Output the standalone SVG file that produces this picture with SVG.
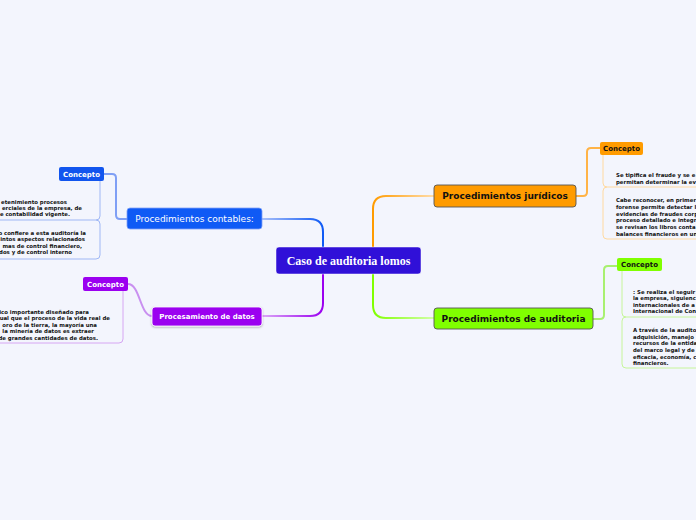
<svg xmlns="http://www.w3.org/2000/svg" width="696" height="520" viewBox="0 0 696 520">
<style>
.n{font-family:"DejaVu Sans",Verdana,sans-serif;}
.b{font-weight:bold;}
.t{font-family:"DejaVu Sans",Verdana,sans-serif;font-weight:bold;font-size:5.4px;fill:#111;}
.c{fill:none;stroke-width:2;stroke-linecap:round;}
.bx{fill:none;stroke-width:1;}
</style>
<defs>
<linearGradient id="gB" gradientUnits="userSpaceOnUse" x1="262" y1="0" x2="323" y2="0"><stop offset="0" stop-color="#a9c0fa"/><stop offset="1" stop-color="#0f5af5"/></linearGradient>
<linearGradient id="gP" gradientUnits="userSpaceOnUse" x1="262" y1="0" x2="323" y2="0"><stop offset="0" stop-color="#dca8f8"/><stop offset="1" stop-color="#9b00f0"/></linearGradient>
<linearGradient id="gO" gradientUnits="userSpaceOnUse" x1="434" y1="0" x2="373" y2="0"><stop offset="0" stop-color="#ffdcaa"/><stop offset="1" stop-color="#ff9b00"/></linearGradient>
<linearGradient id="gG" gradientUnits="userSpaceOnUse" x1="434" y1="0" x2="373" y2="0"><stop offset="0" stop-color="#d2ffaa"/><stop offset="1" stop-color="#80ff00"/></linearGradient>
<filter id="sh" x="-10%" y="-20%" width="120%" height="150%"><feDropShadow dx="0" dy="1" stdDeviation="0.8" flood-color="#000" flood-opacity="0.3"/></filter>
</defs>
<rect width="696" height="520" fill="#f3f5fd"/>

<g id="connectors">
<path class="c" stroke="url(#gB)" d="M323,247 V232 Q323,219 310,219 H262"/>
<path class="c" stroke="url(#gP)" d="M323,274 V303 Q323,316 310,316 H262"/>
<path class="c" stroke="url(#gO)" d="M373,247 V209 Q373,196 386,196 H434"/>
<path class="c" stroke="url(#gG)" d="M373,274 V305 Q373,318 386,318 H434"/>
<path class="c" stroke="#7f9ff5" stroke-width="1.2" d="M127,219 H120 Q116,219 116,215 V178 Q116,174 112,174 H104"/>
<path class="c" stroke="#c990f0" stroke-width="1" d="M152,316 C140,316 140,284 128,284"/>
<path class="c" stroke="#ffb347" stroke-width="1" d="M576,196 H583 Q587,196 587,192 V152 Q587,148 591,148 H600"/>
<path class="c" stroke="#a8f070" stroke-width="1" d="M593,319 H600 Q604,319 604,315 V270 Q604,266 608,266 H617"/>
</g>

<g id="center">
<rect x="276" y="247" width="145" height="27" rx="3" fill="#3010d8" stroke="#ffffff" stroke-opacity="0.6" stroke-width="0.8"/>
<text x="348.5" y="264.5" text-anchor="middle" font-family="'Liberation Serif','DejaVu Serif',serif" font-weight="bold" font-size="12" fill="#fff">Caso de auditoria lomos</text>
</g>

<g id="contables">
<rect x="127" y="208" width="135" height="21" rx="3" fill="#0f5af5" stroke="#7da0f8" stroke-width="0.8"/>
<text class="n" x="194.5" y="222" text-anchor="middle" font-size="9" fill="#fff">Procedimientos contables:</text>
</g>

<g id="procesamiento">
<rect x="152" y="307" width="110" height="19" rx="3" fill="#9b00f0" stroke="#ffffff" stroke-width="0.8" filter="url(#sh)"/>
<text class="n b" x="207" y="319" text-anchor="middle" font-size="7" fill="#fff">Procesamiento de datos</text>
</g>

<g id="juridicos">
<rect x="434" y="185" width="142" height="22" rx="3" fill="#ff9b00" stroke="#555" stroke-width="0.9"/>
<text class="n b" x="505" y="199.3" text-anchor="middle" font-size="9" fill="#111">Procedimientos jurídicos</text>
</g>

<g id="auditoria">
<rect x="434" y="308" width="159" height="21" rx="3" fill="#80ff00" stroke="#555" stroke-width="0.9"/>
<text class="n b" x="513.5" y="321.8" text-anchor="middle" font-size="9" fill="#111">Procedimientos de auditoria</text>
</g>

<g id="concepto-contables">
<rect x="59" y="167" width="45" height="14" rx="2" fill="#1155ee"/>
<text class="n b" x="81.5" y="176.6" text-anchor="middle" font-size="7" fill="#fff">Concepto</text>
<path class="bx" stroke="#9fb7f5" d="M0,220 H96 Q100,220 100,216 V181 M96,220 Q100,220 100,224 V255 Q100,259 96,259 H0"/>
<text class="t" text-anchor="end" x="67" y="203.5">etenimiento procesos</text>
<text class="t" text-anchor="end" x="82" y="209.5">erciales de la empresa, de</text>
<text class="t" text-anchor="end" x="70" y="216">e contabilidad vigente.</text>
<text class="t" text-anchor="end" x="86" y="235">o confiere a esta auditoría la</text>
<text class="t" text-anchor="end" x="85" y="241">intos aspectos relacionados</text>
<text class="t" text-anchor="end" x="82" y="247.5">mas de control financiero,</text>
<text class="t" text-anchor="end" x="72" y="254">dos y de control interno</text>
</g>

<g id="concepto-procesamiento">
<rect x="83" y="277" width="45" height="14" rx="2" fill="#9b00f0"/>
<text class="n b" x="105.5" y="286.6" text-anchor="middle" font-size="7" fill="#fff">Concepto</text>
<path class="bx" stroke="#d6a6f3" d="M123,291 V339 Q123,343 119,343 H0"/>
<text class="t" text-anchor="end" x="89" y="314">ico importante diseñado para</text>
<text class="t" text-anchor="end" x="110" y="320">ual que el proceso de la vida real de</text>
<text class="t" text-anchor="end" x="97" y="327">oro de la tierra, la mayoría una</text>
<text class="t" text-anchor="end" x="94" y="333">la minería de datos es extraer</text>
<text class="t" text-anchor="end" x="98" y="340">de grandes cantidades de datos.</text>
</g>

<g id="concepto-juridicos">
<rect x="600" y="142" width="43" height="13" rx="2" fill="#ff9b00"/>
<text class="n b" x="621.5" y="151" text-anchor="middle" font-size="7" fill="#111">Concepto</text>
<path class="bx" stroke="#ffd9a0" d="M603,155 V183 Q603,187 607,187 H696 M607,187 Q603,187 603,191 V235 Q603,239 607,239 H696"/>
<text class="t" x="616" y="177">Se tipifica el fraude y se e</text>
<text class="t" x="616" y="184">permitan determinar la ev</text>
<text class="t" x="616" y="202">Cabe reconocer, en primer</text>
<text class="t" x="616" y="209">forense permite detectar l</text>
<text class="t" x="616" y="216">evidencias de fraudes corp</text>
<text class="t" x="616" y="222">proceso detallado e integr</text>
<text class="t" x="616" y="229">se revisan los libros conta</text>
<text class="t" x="616" y="236">balances financieros en un</text>
</g>

<g id="concepto-auditoria">
<rect x="617" y="258" width="45" height="13" rx="2" fill="#80ff00"/>
<text class="n b" x="639.5" y="267" text-anchor="middle" font-size="7" fill="#111">Concepto</text>
<path class="bx" stroke="#c6f59a" d="M622,271 V313 Q622,317 626,317 H696 M626,317 Q622,317 622,321 V364 Q622,368 626,368 H696"/>
<text class="t" x="633" y="294">: Se realiza el seguir</text>
<text class="t" x="633" y="300">la empresa, siguienc</text>
<text class="t" x="633" y="307">internacionales de a</text>
<text class="t" x="633" y="313">Internacional de Con</text>
<text class="t" x="633" y="332">A través de la audito</text>
<text class="t" x="633" y="339">adquisición, manejo</text>
<text class="t" x="633" y="345">recursos de la entida</text>
<text class="t" x="633" y="352">del marco legal y de</text>
<text class="t" x="633" y="359">eficacia, economía, c</text>
<text class="t" x="633" y="365">financieros.</text>
</g>
</svg>
